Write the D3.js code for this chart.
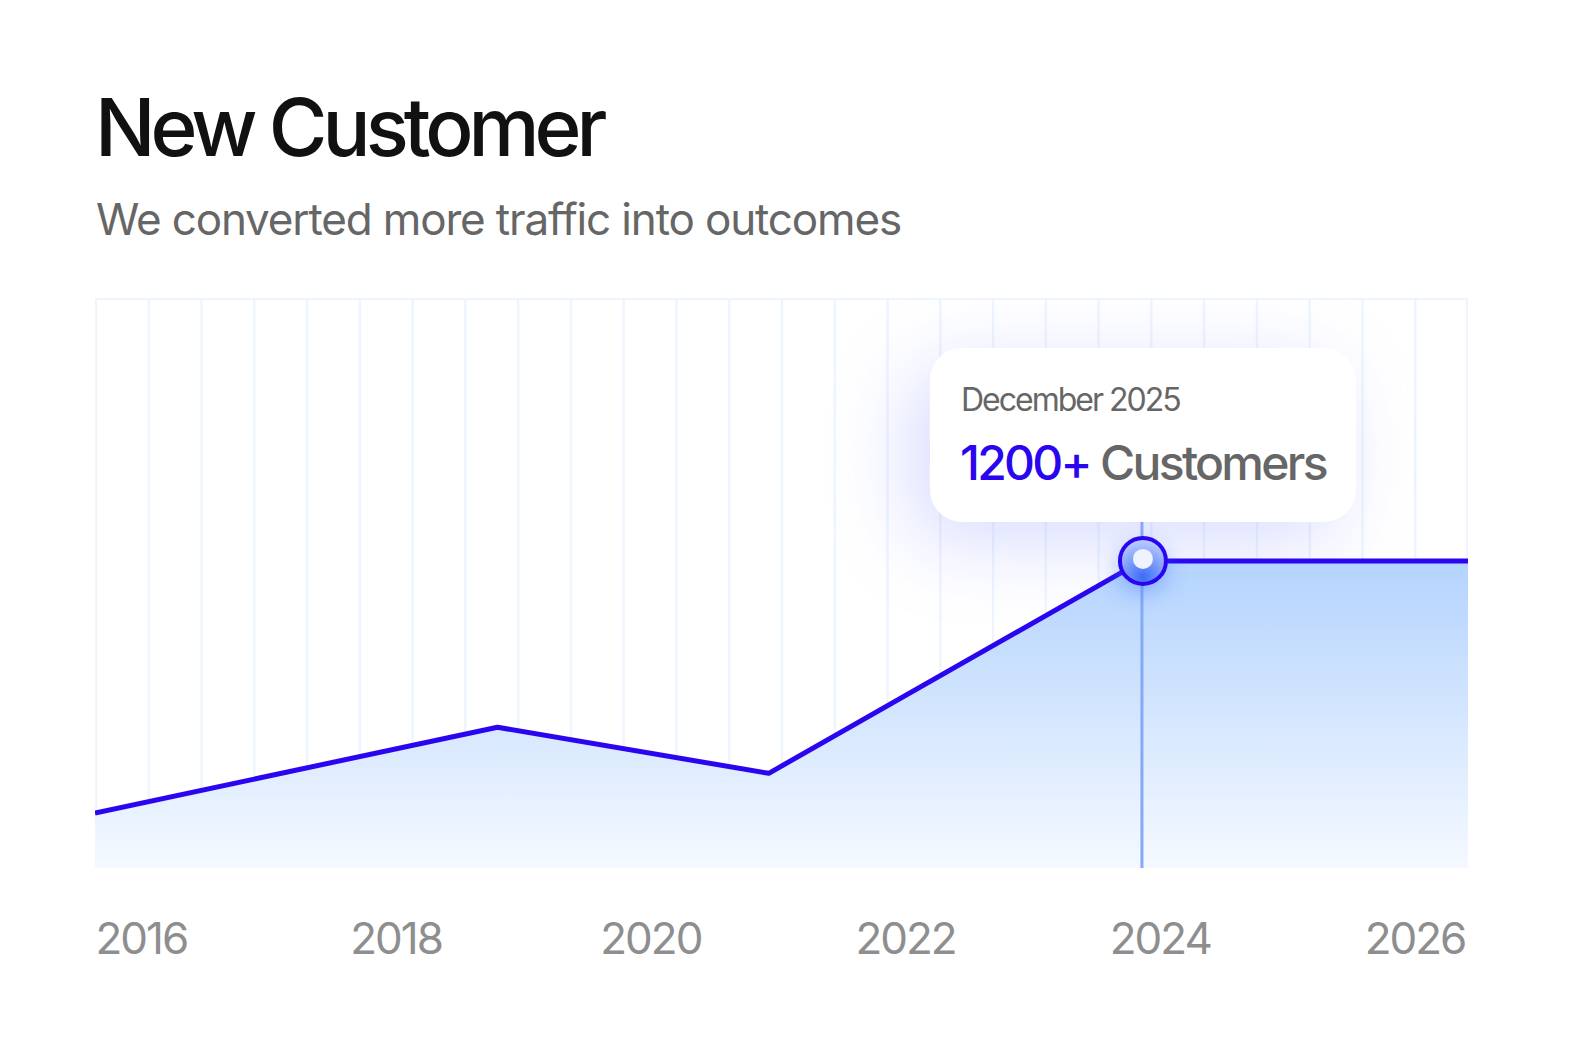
<!DOCTYPE html>
<html>
<head>
<meta charset="utf-8">
<script src="https://cdn.jsdelivr.net/npm/d3@7"></script>
<style>
  html, body { margin: 0; padding: 0; background: #fff; }
  svg { display: block; font-family: Inter, "Noto Sans", sans-serif; }
</style>
</head>
<body>
<svg id="chart" width="1572" height="1056"></svg>
<script>
// data (fractional years, customers)
var years = [2015.64, 2018.8, 2020.93, 2023.86, 2026.42];
var customers = [215, 550, 370, 1200, 1200];
var tickYears = [2016, 2018, 2020, 2022, 2024, 2026];
var highlightIndex = 3;
var highlightLabel = "December 2025";

var svg = d3.select("#chart"),
    pLeft = 95, pRight = 1468, pTop = 298, pBottom = 868;

var x = d3.scaleLinear().domain([2015.64, 2026.42]).range([pLeft, pRight]);
var y = d3.scaleLinear().domain([0, 2200]).range([pBottom, 305]);
var grid = d3.scaleLinear().domain([0, 26]).range([pLeft + 1, pRight]);

var data = years.map(function(d, i) { return {year: d, value: customers[i]}; });
var hl = data[highlightIndex];

var defs = svg.append("defs");

var areaGrad = defs.append("linearGradient")
    .attr("id", "areaGrad")
    .attr("gradientUnits", "userSpaceOnUse")
    .attr("x1", 0).attr("x2", 0)
    .attr("y1", y(1200)).attr("y2", pBottom);
areaGrad.append("stop").attr("offset", "0%").attr("stop-color", "#b3d3fe");
areaGrad.append("stop").attr("offset", "100%").attr("stop-color", "#f5f9ff");

var dotGrad = defs.append("radialGradient")
    .attr("id", "dotGrad")
    .attr("cx", "50%").attr("cy", "85%").attr("r", "75%");
dotGrad.append("stop").attr("offset", "0%").attr("stop-color", "#3b6cf7");
dotGrad.append("stop").attr("offset", "100%").attr("stop-color", "#b3c6fd");

var glow = defs.append("filter").attr("id", "glow")
    .attr("x", "-50%").attr("y", "-50%").attr("width", "200%").attr("height", "200%");
glow.append("feGaussianBlur").attr("stdDeviation", 40);

var soft = defs.append("filter").attr("id", "soft")
    .attr("x", "-100%").attr("y", "-100%").attr("width", "300%").attr("height", "300%");
soft.append("feGaussianBlur").attr("stdDeviation", 12);

defs.append("clipPath").attr("id", "plotClip")
  .append("rect").attr("x", pLeft).attr("y", pTop)
    .attr("width", pRight - pLeft).attr("height", pBottom - pTop);

// titles
svg.append("text")
    .attr("x", 95).attr("y", 156)
    .attr("font-size", 80).attr("font-weight", 500)
    .attr("letter-spacing", -5)
    .attr("fill", "#111")
    .text("New Customer");

svg.append("text")
    .attr("x", 96).attr("y", 235)
    .attr("font-size", 44)
    .attr("letter-spacing", -1.15)
    .attr("fill", "#666")
    .text("We converted more traffic into outcomes");

// plot frame + grid
var plot = svg.append("g").attr("clip-path", "url(#plotClip)");

plot.append("rect")
    .attr("x", pLeft).attr("y", pTop)
    .attr("width", pRight - pLeft).attr("height", pBottom - pTop)
    .attr("fill", "#fff")
    .attr("stroke", "#eef5fd").attr("stroke-width", 4);

plot.append("g").selectAll("line")
    .data(d3.range(27))
    .enter().append("line")
    .attr("x1", function(d) { return grid(d); })
    .attr("x2", function(d) { return grid(d); })
    .attr("y1", pTop).attr("y2", pBottom)
    .attr("stroke", "#eef5fd").attr("stroke-width", 2.5);

// tooltip glow (behind area)
var tipW = 426, tipH = 174, tipX = x(hl.year) - tipW / 2 + 1, tipY = y(hl.value) - 39 - tipH;
plot.append("rect")
    .attr("x", tipX - 20).attr("y", tipY + 20)
    .attr("width", tipW).attr("height", tipH)
    .attr("rx", 40)
    .attr("fill", "#8f9dff").attr("opacity", 0.35)
    .attr("filter", "url(#glow)");

// area + line
var area = d3.area()
    .x(function(d) { return x(d.year); })
    .y0(pBottom)
    .y1(function(d) { return y(d.value); });

var line = d3.line()
    .x(function(d) { return x(d.year); })
    .y(function(d) { return y(d.value); });

plot.append("path")
    .datum(data)
    .attr("fill", "url(#areaGrad)")
    .attr("d", area);

// highlight guide
svg.append("line")
    .attr("x1", x(hl.year)).attr("x2", x(hl.year))
    .attr("y1", tipY + tipH - 2).attr("y2", pBottom)
    .attr("stroke", "#86a9f6").attr("stroke-width", 3);

plot.append("path")
    .datum(data)
    .attr("fill", "none")
    .attr("stroke", "#2a06f0")
    .attr("stroke-width", 5)
    .attr("stroke-linejoin", "round")
    .attr("d", line);

// highlighted point
svg.append("circle")
    .attr("cx", x(hl.year)).attr("cy", y(hl.value) + 8)
    .attr("r", 22)
    .attr("fill", "#3d78ff").attr("opacity", 0.55)
    .attr("filter", "url(#soft)");

svg.append("circle")
    .attr("cx", x(hl.year) + 1).attr("cy", y(hl.value))
    .attr("r", 23)
    .attr("fill", "url(#dotGrad)")
    .attr("stroke", "#2a06f0").attr("stroke-width", 4);

svg.append("circle")
    .attr("cx", x(hl.year) + 1).attr("cy", y(hl.value) - 2)
    .attr("r", 10)
    .attr("fill", "#eef3ff");

// tooltip card
svg.append("rect")
    .attr("x", tipX).attr("y", tipY)
    .attr("width", tipW).attr("height", tipH)
    .attr("rx", 32)
    .attr("fill", "#fff");

svg.append("text")
    .attr("x", tipX + 31).attr("y", tipY + 63)
    .attr("font-size", 32)
    .attr("letter-spacing", -2)
    .attr("fill", "#666")
    .text(highlightLabel);

var val = svg.append("text")
    .attr("x", tipX + 30).attr("y", tipY + 132)
    .attr("font-size", 48)
    .attr("font-weight", 500)
    .attr("letter-spacing", -2.7);
val.append("tspan").attr("fill", "#2a06f0").text(hl.value + "+");
val.append("tspan").attr("fill", "#666").text(" Customers");

// x axis labels
var axis = d3.axisBottom(x).tickValues(tickYears).tickFormat(d3.format("d")).tickSize(0);
var ax = svg.append("g")
    .attr("transform", "translate(0," + 919 + ")")
    .call(axis);
ax.select(".domain").remove();
ax.selectAll("text")
    .attr("font-family", "Inter, sans-serif")
    .attr("font-size", 44)
    .attr("letter-spacing", -2)
    .attr("fill", "#8e8e8e")
    .attr("dy", "0.72em");
</script>
</body>
</html>
